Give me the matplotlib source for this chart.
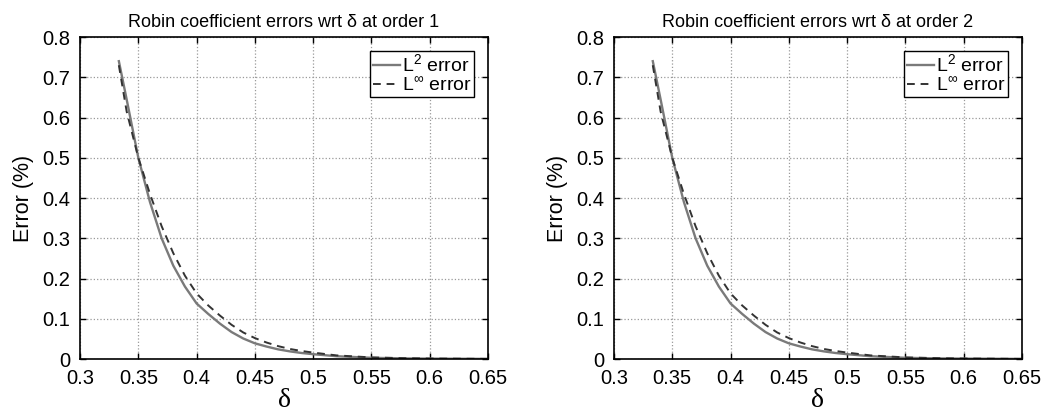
import matplotlib
matplotlib.use("Agg")
import matplotlib.pyplot as plt
from matplotlib.ticker import FuncFormatter

plt.rcParams["font.family"] = ["Liberation Sans", "DejaVu Sans"]
plt.rcParams["mathtext.default"] = "regular"

# values (delta -> error %)
delta = [0.3333, 0.34, 0.35, 0.36, 0.37, 0.38, 0.39, 0.40, 0.41, 0.42, 0.43, 0.44,
         0.45, 0.46, 0.47, 0.48, 0.49, 0.50, 0.52, 0.55, 0.58, 0.60, 0.65]
l2_order1 = [0.74, 0.645, 0.50, 0.39, 0.30, 0.232, 0.18, 0.138, 0.112, 0.088, 0.067, 0.051,
             0.039, 0.031, 0.024, 0.019, 0.015, 0.012, 0.007, 0.003, 0.0015, 0.001, 0.0003]
linf_order1 = [0.73, 0.615, 0.50, 0.41, 0.33, 0.263, 0.207, 0.163, 0.133, 0.108, 0.085, 0.066,
               0.052, 0.041, 0.032, 0.025, 0.020, 0.016, 0.009, 0.004, 0.002, 0.0012, 0.0003]
l2_order2 = [0.74, 0.645, 0.50, 0.39, 0.30, 0.232, 0.18, 0.138, 0.112, 0.088, 0.067, 0.051,
             0.039, 0.031, 0.024, 0.019, 0.015, 0.012, 0.007, 0.003, 0.0015, 0.001, 0.0003]
linf_order2 = [0.73, 0.615, 0.50, 0.41, 0.33, 0.263, 0.207, 0.163, 0.133, 0.108, 0.085, 0.066,
               0.052, 0.041, 0.032, 0.025, 0.020, 0.016, 0.009, 0.004, 0.002, 0.0012, 0.0003]
orders = [1, 2]
xticks = [0.3, 0.35, 0.4, 0.45, 0.5, 0.55, 0.6, 0.65]
yticks = [0, 0.1, 0.2, 0.3, 0.4, 0.5, 0.6, 0.7, 0.8]

fig = plt.figure(figsize=(10.49, 4.18), dpi=100)
axes = [fig.add_axes([0.0763, 0.1411, 0.3889, 0.7703]),
        fig.add_axes([0.5853, 0.1411, 0.3889, 0.7703])]
series = [(l2_order1, linf_order1), (l2_order2, linf_order2)]

fmt = FuncFormatter(lambda v, p: "%g" % round(v, 3))
for ax, (l2, linf), order in zip(axes, series, orders):
    ax.plot(delta, l2, color="#7a7a7a", lw=1.7, label="L$^2$ error")
    ax.plot(delta, linf, color="#333333", lw=1.4, ls=(0, (4, 3)), label="L$^{\\infty}$ error")
    ax.set_xlim(0.3, 0.65)
    ax.set_ylim(0, 0.8)
    ax.set_xticks(xticks)
    ax.set_yticks(yticks)
    ax.xaxis.set_major_formatter(fmt)
    ax.yaxis.set_major_formatter(fmt)
    ax.grid(True, ls=":", color="#999999", lw=0.9)
    ax.tick_params(direction="in", top=True, right=True, length=4, labelsize=14.5, width=1)
    ax.tick_params(axis="x", pad=7)
    ax.tick_params(axis="y", pad=7)
    for s in ax.spines.values():
        s.set_linewidth(1.2)
    ax.set_title("Robin coefficient errors wrt δ at order %d" % order, fontsize=13, pad=7)
    ax.set_ylabel("Error (%)", fontsize=15.5, labelpad=6)
    ax.set_xlabel("δ", fontsize=20, family=["Liberation Serif", "DejaVu Serif"], labelpad=0)
    leg = ax.legend(loc="upper right", fontsize=14, handlelength=1.4, handletextpad=0.1,
                    borderpad=0.15, labelspacing=0.05, fancybox=False, framealpha=1,
                    borderaxespad=0.7)
    leg.get_frame().set_edgecolor("black")
    leg.get_frame().set_linewidth(1.0)

fig.savefig("out.png", dpi=100)
